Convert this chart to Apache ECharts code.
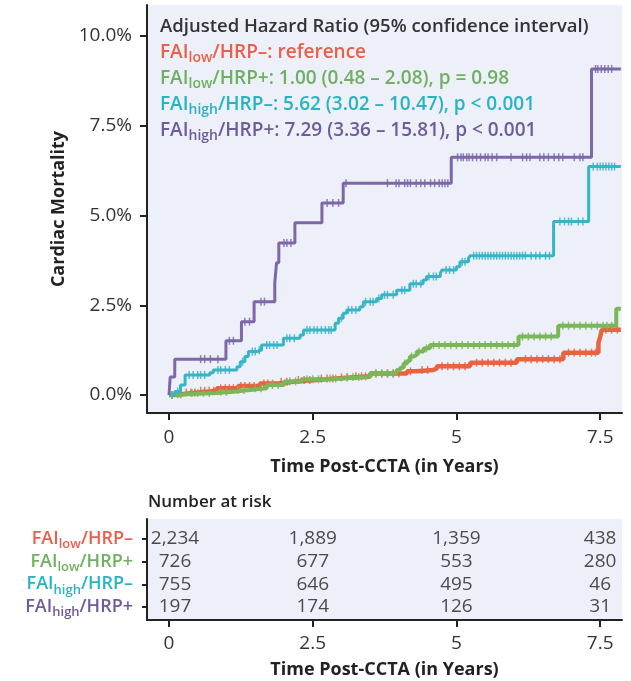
<!DOCTYPE html>
<html>
<head>
<meta charset="utf-8">
<title>Cardiac Mortality by FAI / HRP group</title>
<script src="https://cdn.jsdelivr.net/npm/echarts@6/dist/echarts.min.js"></script>
<style>
  html, body { margin: 0; padding: 0; background: #ffffff; }
  #chart { width: 631px; height: 681px; }
</style>
</head>
<body>
<div id="chart"></div>
<script>
// ---- data -------------------------------------------------------------
const groupSub  = ['low', 'low', 'high', 'high'];
const groupSign = ['–', '+', '–', '+'];
const hazardText = [
  'reference',
  '1.00 (0.48 – 2.08), p = 0.98',
  '5.62 (3.02 – 10.47), p < 0.001',
  '7.29 (3.36 – 15.81), p < 0.001'
];
const legendTitle = 'Adjusted Hazard Ratio (95% confidence interval)';

// cumulative cardiac mortality (%) at event times (years)
const stepsLowNeg = [
  [0, 0], [0.1, 0.03], [0.25, 0.07], [0.5, 0.12], [0.83, 0.19], [1.2, 0.25],
  [1.58, 0.32], [1.9, 0.37], [2.16, 0.42], [2.57, 0.46], [2.9, 0.49], [3.15, 0.52],
  [3.5, 0.60], [4.14, 0.66], [4.3, 0.70], [4.6, 0.74], [4.66, 0.80], [5.24, 0.90],
  [6.05, 1.0], [6.86, 1.18], [7.47, 1.45], [7.5, 1.62], [7.53, 1.82], [7.86, 1.82]
];
const stepsLowPos = [
  [0, 0], [0.1, 0.02], [0.3, 0.06], [0.83, 0.09], [1.12, 0.14], [1.41, 0.19],
  [1.7, 0.28], [2.0, 0.38], [2.3, 0.44], [2.69, 0.46], [3.0, 0.50], [3.5, 0.60],
  [3.96, 0.70], [4.02, 0.76], [4.08, 0.88], [4.14, 0.95], [4.19, 1.07], [4.25, 1.12],
  [4.31, 1.21], [4.43, 1.30], [4.54, 1.39], [6.08, 1.63], [6.77, 1.93], [7.78, 2.40],
  [7.86, 2.40]
];
const stepsHighNeg = [
  [0, 0], [0.1, 0.1], [0.2, 0.28], [0.28, 0.56], [0.71, 0.62], [0.77, 0.70],
  [1.18, 0.79], [1.24, 0.93], [1.32, 1.07], [1.38, 1.21], [1.53, 1.25], [1.61, 1.39],
  [1.99, 1.58], [2.28, 1.67], [2.34, 1.81], [2.89, 2.0], [2.95, 2.14], [3.03, 2.28],
  [3.09, 2.37], [3.32, 2.46], [3.38, 2.60], [3.61, 2.69], [3.70, 2.79], [3.96, 2.92],
  [4.19, 3.1], [4.42, 3.2], [4.48, 3.30], [4.72, 3.39], [4.75, 3.48], [5.0, 3.57],
  [5.06, 3.71], [5.21, 3.81], [5.24, 3.88], [6.69, 4.83], [7.30, 6.36], [7.86, 6.36]
];
const stepsHighPos = [
  [0, 0], [0.02, 0.5], [0.1, 1.0], [0.99, 1.51], [1.26, 2.04], [1.48, 2.6],
  [1.84, 3.12], [1.87, 3.68], [1.91, 4.23], [2.19, 4.8], [2.66, 5.35], [3.03, 5.9],
  [4.91, 6.62], [7.35, 9.08], [7.86, 9.08]
];

// censoring times (years)
const censorLowNeg = [0.05, 0.15, 0.2, 0.3, 0.38, 0.45, 0.55, 0.62, 0.7, 0.78, 0.9, 0.98,
  1.05, 1.12, 1.25, 1.32, 1.4, 1.48, 1.65, 1.72, 1.8, 1.95, 2.05, 2.25, 2.35, 2.45, 2.65,
  2.75, 2.85, 3.0, 3.1, 3.25, 3.35, 3.42, 3.6, 3.7, 3.8, 3.9, 4.0, 4.2, 4.4, 4.5, 4.75,
  4.85, 4.95, 5.05, 5.15, 5.35, 5.45, 5.55, 5.65, 5.75, 5.85, 5.95, 6.2, 6.3, 6.4, 6.5,
  6.6, 6.7, 6.8, 6.95, 7.05, 7.15, 7.25, 7.35, 7.42, 7.6, 7.7, 7.8];
const censorLowPos = [0.05, 0.15, 0.2, 0.4, 0.5, 0.6, 0.7, 0.9, 1.0, 1.2, 1.3, 1.5, 1.6,
  1.8, 1.9, 2.1, 2.2, 2.4, 2.5, 2.6, 2.8, 2.9, 3.1, 3.2, 3.3, 3.6, 3.7, 3.8, 3.9, 4.1,
  4.22, 4.35, 4.48, 4.6, 4.7, 4.8, 4.9, 5.0, 5.1, 5.2, 5.3, 5.4, 5.5, 5.6, 5.7, 5.8, 5.9,
  6.0, 6.15, 6.25, 6.35, 6.45, 6.55, 6.65, 6.85, 6.95, 7.05, 7.15, 7.25, 7.35, 7.45,
  7.55, 7.62, 7.7];
const censorHighNeg = [0.15, 0.35, 0.42, 0.5, 0.55, 0.62, 0.85, 0.9, 0.98, 1.05, 1.28,
  1.45, 1.5, 1.57, 1.7, 1.75, 1.82, 1.88, 2.05, 2.1, 2.18, 2.4, 2.45, 2.52, 2.58, 2.65,
  2.72, 2.78, 2.82, 3.0, 3.12, 3.18, 3.25, 3.42, 3.5, 3.55, 3.65, 3.75, 3.8, 3.9, 4.05,
  4.1, 4.25, 4.3, 4.38, 4.52, 4.6, 4.65, 4.82, 4.88, 4.95, 5.1, 5.15, 5.3, 5.35, 5.4,
  5.45, 5.5, 5.55, 5.6, 5.65, 5.7, 5.75, 5.8, 5.85, 5.9, 5.95, 6.0, 6.05, 6.1, 6.15,
  6.2, 6.3, 6.38, 6.45, 6.55, 6.62, 6.8, 6.88, 6.95, 7.0, 7.12, 7.2, 7.38, 7.45, 7.5,
  7.55, 7.6, 7.65, 7.7, 7.75];
const censorHighPos = [0.55, 0.62, 0.72, 0.85, 1.05, 1.12, 1.32, 1.4, 1.6, 1.66, 2.0,
  2.05, 2.12, 2.75, 2.85, 2.95, 3.08, 3.8, 3.95, 4.0, 4.1, 4.15, 4.2, 4.3, 4.38, 4.45,
  4.55, 4.62, 4.7, 4.75, 4.8, 4.85, 5.02, 5.08, 5.12, 5.18, 5.22, 5.28, 5.35, 5.42, 5.5,
  5.55, 5.62, 5.7, 5.95, 6.15, 6.22, 6.28, 6.45, 6.52, 6.6, 6.7, 6.78, 6.85, 7.05, 7.15,
  7.2, 7.42, 7.46, 7.52, 7.58, 7.64, 7.7];

// number at risk
const riskTimes = [0, 2.5, 5, 7.5];
const riskLowNeg  = [2234, 1889, 1359, 438];
const riskLowPos  = [726, 677, 553, 280];
const riskHighNeg = [755, 646, 495, 46];
const riskHighPos = [197, 174, 126, 31];

// axis ticks
const xTicks = [0, 2.5, 5, 7.5];
const xTickLabels = ['0', '2.5', '5', '7.5'];
const yTicks = [0, 2.5, 5, 7.5, 10];
const yTickLabels = ['0.0%', '2.5%', '5.0%', '7.5%', '10.0%'];

// ---- styling ----------------------------------------------------------
const FONT = '"Open Sans", "Noto Sans", sans-serif';
const lineColors = ['#e8633f', '#79b758', '#36b5c6', '#7c67ab'];
const textColors = ['#e9604a', '#6fb062', '#27b3c4', '#6e5b9c'];
const lineWidths = [4.5, 4, 3, 3];

const allSteps = [stepsLowNeg, stepsLowPos, stepsHighNeg, stepsHighPos];
const allCensor = [censorLowNeg, censorLowPos, censorHighNeg, censorHighPos];
const allRisk = [riskLowNeg, riskLowPos, riskHighNeg, riskHighPos];

// expand event points into a Kaplan–Meier staircase
function staircase(steps) {
  const pts = [steps[0]];
  for (let i = 1; i < steps.length; i++) {
    pts.push([steps[i][0], steps[i - 1][1]]);
    pts.push([steps[i][0], steps[i][1]]);
  }
  return pts;
}
function valueAt(steps, t) {
  let v = steps[0][1];
  for (const s of steps) { if (s[0] <= t) v = s[1]; }
  return v;
}

const X_MIN = -0.383, X_MAX = 7.88;

function label(i, rest) {
  return '{m' + i + '|FAI}{s' + i + '|' + groupSub[i] + '}{m' + i + '|/HRP' + groupSign[i] + rest + '}';
}
function richFor(fontSize, subSize, lineHeight, subPad) {
  const r = {};
  for (let i = 0; i < 4; i++) {
    r['m' + i] = { fontFamily: FONT, fontSize: fontSize, fontWeight: 600,
      color: textColors[i], fill: textColors[i],
      lineHeight: lineHeight, verticalAlign: 'middle' };
    r['s' + i] = { fontFamily: FONT, fontSize: subSize, fontWeight: 600,
      color: textColors[i], fill: textColors[i],
      lineHeight: 8, verticalAlign: 'top', padding: [subPad, 0, 0, 0] };
  }
  return r;
}

const series = [];
// curves: green under red, then cyan and purple
[1, 0, 2, 3].forEach(function (g) {
  series.push({
    type: 'line', xAxisIndex: 0, yAxisIndex: 0, data: staircase(allSteps[g]),
    showSymbol: false, silent: true, animation: false,
    lineStyle: { color: lineColors[g], width: lineWidths[g] }, z: 3 + g
  });
  series.push({
    type: 'scatter', xAxisIndex: 0, yAxisIndex: 0, silent: true, animation: false,
    data: allCensor[g].map(function (t) { return [t, valueAt(allSteps[g], t)]; }),
    symbol: 'rect', symbolSize: [1.5, 8],
    itemStyle: { color: lineColors[g], opacity: 0.85 }, z: 3 + g
  });
});
// number-at-risk table
for (let g = 0; g < 4; g++) {
  series.push({
    type: 'scatter', xAxisIndex: 1, yAxisIndex: 1, silent: true, animation: false,
    symbolSize: 0,
    data: riskTimes.map(function (t, k) {
      return { value: [t, 3 - g, allRisk[g][k].toLocaleString('en-US')],
        label: { offset: [t === 0 ? 6 : 0, 0] } };
    }),
    label: { show: true, position: 'inside', formatter: function (p) { return p.value[2]; },
      fontFamily: FONT, fontSize: 19, color: '#222' }
  });
}

const axisLineStyle = { show: true, onZero: false, lineStyle: { color: '#222', width: 2 } };
const tickStyle = { show: true, length: 7, lineStyle: { color: '#222', width: 2 } };
const nameStyle = { fontFamily: FONT, fontSize: 18, fontWeight: 'bold', color: '#222' };
const tickLabelStyle = { fontFamily: FONT, fontSize: 19, color: '#333' };

const option = {
  backgroundColor: '#ffffff',
  animation: false,
  grid: [
    { left: 147, top: 5, width: 475, height: 408, show: true, backgroundColor: '#edf0f9',
      borderWidth: 0, containLabel: false, outerBoundsMode: 'none' },
    { left: 147, top: 519, width: 475, height: 101, show: true, backgroundColor: '#edf0f9',
      borderWidth: 0, containLabel: false, outerBoundsMode: 'none' }
  ],
  xAxis: [
    { type: 'value', gridIndex: 0, min: X_MIN, max: X_MAX,
      axisLine: axisLineStyle, axisTick: Object.assign({ customValues: xTicks }, tickStyle),
      splitLine: { show: false },
      axisLabel: Object.assign({ customValues: xTicks, margin: 15,
        formatter: function (v) { return xTickLabels[xTicks.indexOf(v)]; } }, tickLabelStyle),
      name: 'Time Post-CCTA (in Years)', nameLocation: 'middle', nameGap: 45, nameTextStyle: nameStyle },
    { type: 'value', gridIndex: 1, min: X_MIN, max: X_MAX,
      axisLine: axisLineStyle, axisTick: Object.assign({ customValues: xTicks }, tickStyle),
      splitLine: { show: false },
      axisLabel: Object.assign({ customValues: xTicks, margin: 14,
        formatter: function (v) { return xTickLabels[xTicks.indexOf(v)]; } }, tickLabelStyle),
      name: 'Time Post-CCTA (in Years)', nameLocation: 'middle', nameGap: 41, nameTextStyle: nameStyle }
  ],
  yAxis: [
    { type: 'value', gridIndex: 0, min: -0.5, max: 10.86,
      axisLine: axisLineStyle, axisTick: Object.assign({ customValues: yTicks }, tickStyle),
      splitLine: { show: false },
      axisLabel: Object.assign({ customValues: yTicks, margin: 15,
        formatter: function (v) { return yTickLabels[yTicks.indexOf(v)]; } }, tickLabelStyle),
      name: 'Cardiac Mortality', nameLocation: 'middle', nameRotate: 90, nameGap: 75, nameTextStyle: nameStyle },
    { type: 'value', gridIndex: 1, min: -0.573, max: 3.88,
      axisLine: axisLineStyle,
      axisTick: { show: true, customValues: [0, 1, 2, 3], length: 5, lineStyle: { color: '#222', width: 2 } },
      splitLine: { show: false },
      axisLabel: { customValues: [0, 1, 2, 3], margin: 14, hideOverlap: false,
        showMinLabel: true, showMaxLabel: true,
        formatter: function (v) { return label(3 - v, ''); },
        rich: richFor(18, 13, 16, 7) } }
  ],
  graphic: [
    { type: 'text', left: 160, top: 17, silent: true,
      style: { text: legendTitle, fontFamily: FONT, fontSize: 18.5, fontWeight: 600, fill: '#333' } },
    { type: 'text', left: 160, top: 40, silent: true,
      style: { text: [0, 1, 2, 3].map(function (i) { return label(i, ': ' + hazardText[i]); }).join('\n'),
        rich: richFor(19, 14, 26, 11) } },
    { type: 'text', left: 148, top: 494, silent: true,
      style: { text: 'Number at risk', fontFamily: FONT, fontSize: 17, fontWeight: 600, fill: '#222' } }
  ],
  series: series
};

const chart = echarts.init(document.getElementById('chart'), null, { renderer: 'canvas' });
chart.setOption(option);
</script>
</body>
</html>
